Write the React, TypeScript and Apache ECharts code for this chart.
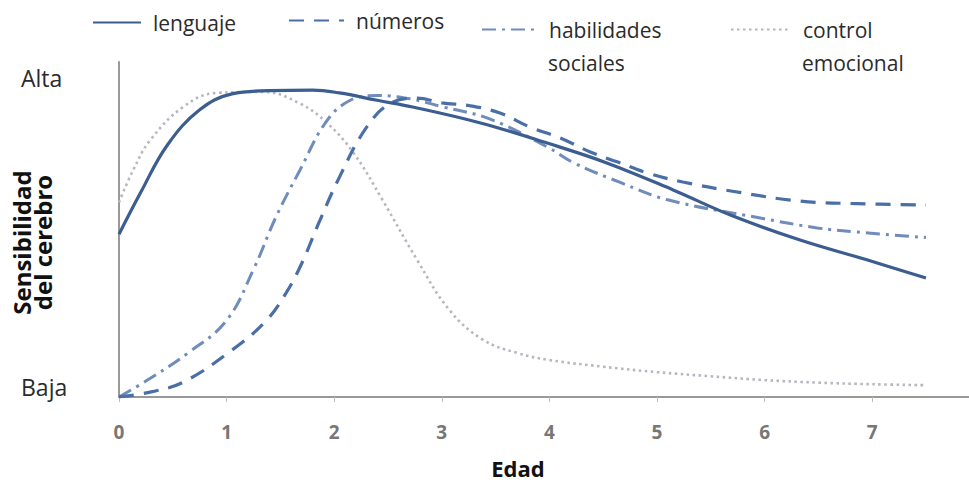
import React, { useEffect, useRef } from "react";
import * as echarts from "echarts";

const xTicks = [0, 1, 2, 3, 4, 5, 6, 7];
const yTickLabels: Record<number, string> = { 0: "Baja", 1: "Alta" };

const seriesNames = ["lenguaje", "números", "habilidades sociales", "control emocional"];
const legendFirstLines = ["lenguaje", "números", "habilidades", "control"];
const legendSecondLines = ["", "", "sociales", "emocional"];

const lenguaje = [
  [0, 0.51], [0.2, 0.64], [0.45, 0.79], [0.75, 0.9], [1.05, 0.95], [1.4, 0.96], [1.8, 0.962],
  [2.05, 0.953], [2.4, 0.93], [2.73, 0.909], [3.36, 0.859], [3.98, 0.796], [4.54, 0.733],
  [5.15, 0.649], [5.7, 0.568], [6.33, 0.492], [6.95, 0.43], [7.5, 0.373],
];
const numeros = [
  [0, 0], [0.3, 0.016], [0.6, 0.047], [1.05, 0.147], [1.37, 0.24], [1.56, 0.33], [1.7, 0.42],
  [1.85, 0.54], [2.05, 0.69], [2.3, 0.845], [2.52, 0.92], [2.77, 0.937], [3.0, 0.922],
  [3.26, 0.913], [3.54, 0.89], [3.82, 0.846], [4.1, 0.812], [4.38, 0.768], [4.63, 0.737],
  [4.93, 0.7], [5.24, 0.674], [5.7, 0.645], [6.33, 0.614], [6.86, 0.606], [7.5, 0.602],
];
const habilidades = [
  [0, 0], [0.25, 0.05], [0.65, 0.14], [1.0, 0.24], [1.25, 0.4], [1.46, 0.565], [1.68, 0.71],
  [1.93, 0.865], [2.15, 0.93], [2.4, 0.945], [2.7, 0.935], [3.0, 0.91], [3.45, 0.871],
  [4.0, 0.78], [4.22, 0.735], [4.67, 0.671], [5.1, 0.618], [5.96, 0.561], [6.49, 0.53],
  [6.86, 0.517], [7.5, 0.5],
];
const control = [
  [0, 0.61], [0.13, 0.71], [0.29, 0.805], [0.6, 0.91], [0.9, 0.953], [1.35, 0.956], [1.68, 0.92],
  [1.93, 0.86], [2.18, 0.765], [2.45, 0.617], [2.77, 0.43], [3.07, 0.273], [3.38, 0.18],
  [3.7, 0.138], [4, 0.116], [4.5, 0.095], [5, 0.078], [5.5, 0.065], [6, 0.053], [6.5, 0.045],
  [7, 0.04], [7.5, 0.037],
];

const FONT = "'Open Sans', sans-serif";

export default function App() {
  const ref = useRef<HTMLDivElement>(null);
  useEffect(() => {
    if (!ref.current) return;
    const chart = echarts.init(ref.current, undefined, { renderer: "svg" });
    const legendText = { fontFamily: FONT, fontSize: 21, color: "#2b2b2b" };
    const mkLegend = (i: number, left: number, top: number, iw: number, padLeft: number) => ({
      data: [seriesNames[i]],
      left,
      top,
      itemWidth: iw,
      itemHeight: 4,
      padding: 0,
      itemStyle: { opacity: 0 },
      formatter: () => legendFirstLines[i],
      textStyle: { ...legendText, padding: [0, 0, 0, padLeft] },
      selectedMode: false,
    });
    const base = {
      type: "line",
      smooth: 0.4,
      symbol: "none",
    };
    chart.setOption({
      animation: false,
      backgroundColor: "#fff",
      grid: { left: 119, right: 0, top: 62, bottom: 86, containLabel: false, outerBoundsMode: "none" },
      legend: [
        mkLegend(0, 92, 12, 48, 7),
        mkLegend(1, 288, 10, 55, 7),
        mkLegend(2, 481, 19, 52, 10),
        mkLegend(3, 730, 19, 57, 10),
      ],
      graphic: [
        {
          type: "text",
          left: 548,
          top: 52,
          style: { text: legendSecondLines[2], fill: "#2b2b2b", font: `21px ${FONT}` },
        },
        {
          type: "text",
          left: 802,
          top: 52,
          style: { text: legendSecondLines[3], fill: "#2b2b2b", font: `21px ${FONT}` },
        },
      ],
      xAxis: {
        type: "value",
        min: 0,
        max: 7.9,
        interval: 1,
        name: "Edad",
        nameLocation: "middle",
        nameGap: 60,
        nameMoveOverlap: false,
        nameTextStyle: {
          fontFamily: FONT,
          fontSize: 22,
          fontWeight: "bold",
          color: "#111",
          lineHeight: 22,
          padding: [0, 52, 0, 0],
        },
        axisLine: { show: true, lineStyle: { color: "#999", width: 2 } },
        axisTick: { show: true, length: 5, customValues: xTicks, lineStyle: { color: "#bbb" } },
        axisLabel: {
          customValues: xTicks,
          margin: 25,
          fontFamily: FONT,
          fontSize: 19,
          color: "#777",
          fontWeight: "bold",
        },
        splitLine: { show: false },
      },
      yAxis: {
        type: "value",
        min: 0,
        max: 1.05,
        interval: 1,
        name: "Sensibilidad\ndel cerebro",
        nameLocation: "middle",
        nameRotate: 90,
        nameGap: 66,
        nameMoveOverlap: false,
        nameTextStyle: {
          fontFamily: FONT,
          fontSize: 24,
          fontWeight: "bold",
          color: "#111",
          lineHeight: 21,
          padding: [0, 26, 0, 0],
        },
        axisLine: { show: true, lineStyle: { color: "#999", width: 2 } },
        axisTick: { show: false },
        axisLabel: {
          margin: 98,
          align: "left",
          formatter: (v: number) => (v === 0 ? `{b|${yTickLabels[0]}}` : v === 1 ? `{a|${yTickLabels[1]}}` : ""),
          rich: {
            a: { fontFamily: FONT, fontSize: 23, color: "#2b2b2b" },
            b: { fontFamily: FONT, fontSize: 23, color: "#2b2b2b", padding: [0, 0, 20, 0] },
          },
        },
        splitLine: { show: false },
      },
      series: [
        {
          ...base,
          name: seriesNames[0],
          data: lenguaje,
          z: 5,
          lineStyle: { color: "#3b5d8f", width: 3.2, type: "solid" },
          itemStyle: { color: "#3b5d8f" },
        },
        {
          ...base,
          name: seriesNames[1],
          data: numeros,
          z: 4,
          lineStyle: { color: "#4a6ea6", width: 3.2, type: [15, 10] },
          itemStyle: { color: "#4a6ea6" },
        },
        {
          ...base,
          name: seriesNames[2],
          data: habilidades,
          z: 3,
          lineStyle: { color: "#6f8cbb", width: 3, type: [14, 6, 3, 6] },
          itemStyle: { color: "#6f8cbb" },
        },
        {
          ...base,
          name: seriesNames[3],
          data: control,
          z: 2,
          lineStyle: { color: "#b3b7bf", width: 2.6, type: [2.5, 3.5] },
          itemStyle: { color: "#b3b7bf" },
        },
      ],
    });
    return () => chart.dispose();
  }, []);
  return <div ref={ref} style={{ width: 969, height: 483, position: "absolute", left: 0, top: 0 }} />;
}
